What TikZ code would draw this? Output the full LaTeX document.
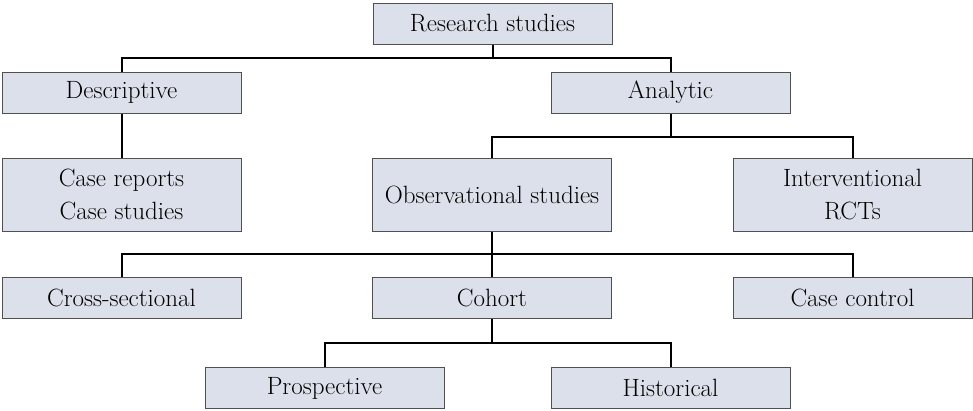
\documentclass[tikz,border=0pt]{standalone}
\usepackage{fontspec}
\definecolor{boxfill}{HTML}{DCE0EA}
\definecolor{boxline}{HTML}{505050}
\begin{document}
\begin{tikzpicture}[x=1pt,y=-1pt,
  box/.style={draw=boxline,line width=1pt,fill=boxfill,minimum width=239pt,minimum height=41pt,
    inner sep=0pt,align=center,font=\fontsize{25}{33}\selectfont},
  tall/.style={box,minimum height=73pt},
  link/.style={draw=black,line width=2pt}]
\useasboundingbox (0,0) rectangle (973,410);
% boxes
\node[box]  (rs)   at (492.5,23.5) {Research studies};
\node[box]  (desc) at (121.5,92.5) {Descriptive};
\node[box]  (ana)  at (670.5,92.5) {Analytic};
\node[tall] (case) at (121.5,194.5) {Case reports\\Case studies};
\node[tall] (obs)  at (492,194.5) {Observational studies};
\node[tall] (int)  at (852.5,194.5) {Interventional\\RCTs};
\node[box]  (cross) at (121.5,297.5) {Cross-sectional};
\node[box]  (coh)  at (492,297.5) {Cohort};
\node[box]  (cc)   at (852.5,297.5) {Case control};
\node[box]  (pro)  at (324.5,388) {Prospective};
\node[box]  (his)  at (670.5,388) {Historical};
% junctions
\coordinate (j1) at (492.5,58);
\coordinate (j2) at (670.5,137);
\coordinate (j3) at (492,254);
\coordinate (j4) at (492,343);
% connectors
\draw[link] (rs.south) -- (j1);
\draw[link] (desc.north) |- (j1) -| (ana.north);
\draw[link] (desc.south) -- (case.north);
\draw[link] (ana.south) -- (j2);
\draw[link] (obs.north) |- (j2) -| (int.north);
\draw[link] (obs.south) -- (coh.north);
\draw[link] (cross.north) |- (j3) -| (cc.north);
\draw[link] (coh.south) -- (j4);
\draw[link] (pro.north) |- (j4) -| (his.north);
\end{tikzpicture}
\end{document}
